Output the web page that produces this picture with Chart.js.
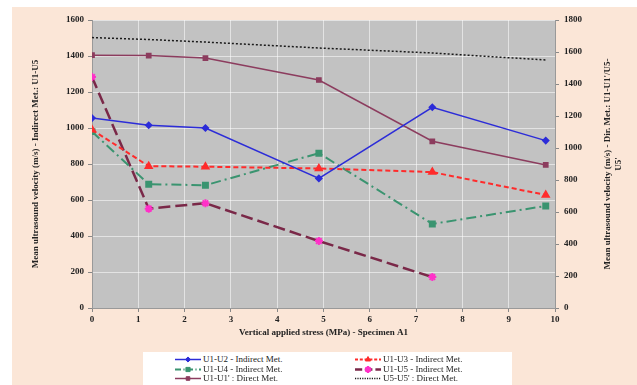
<!DOCTYPE html>
<html>
<head>
<meta charset="utf-8">
<script src="https://cdn.jsdelivr.net/npm/chart.js@4.4.0/dist/chart.umd.min.js"></script>
<style>
  html, body { margin: 0; padding: 0; background: #fff; }
  #page { position: relative; width: 637px; height: 385px; overflow: hidden; }
  #frame { position: absolute; left: 12px; top: 7px; right: 0; bottom: 0; background: #fbe6d7; }
  #chart { position: absolute; left: 0; top: 0; }
  #legend { position: absolute; left: 143px; top: 352px; width: 369px; height: 33px; background: #fff;
            font-family: "Liberation Serif", serif; font-size: 9px; color: #222; }
  .item { position: absolute; height: 9px; line-height: 9px; white-space: nowrap; }
  .item canvas { vertical-align: top; margin-right: 2px; }
</style>
</head>
<body>
<div id="page">
  <div id="frame"></div>
  <canvas id="chart" width="637" height="385"></canvas>
  <div id="legend"></div>
</div>
<script>
// vertical stress steps (MPa)
var stress = [0, 1.225, 2.45, 4.9, 7.35, 9.8];

// indirect method, left axis (m/s)
var u1u2 = [1055, 1015, 1000, 720, 1115, 930];
var u1u3 = [990, 788, 785, 775, 755, 628];
var u1u4 = [980, 688, 682, 860, 467, 567];
var u1u5 = [1283, 552, 582, 372, 172];

// direct method, right axis (m/s)
var u1u1p = [1580, 1578, 1562, 1425, 1042, 894];
var u5u5p = [1690, 1678, 1662, 1625, 1594, 1550];

var leftTicks = [0, 200, 400, 600, 800, 1000, 1200, 1400, 1600];
var rightTicks = [0, 200, 400, 600, 800, 1000, 1200, 1400, 1600, 1800];

function pts(ys) {
    return ys.map(function(y, i) { return { x: stress[i], y: y }; });
}

var serif = "'Liberation Serif', 'Times New Roman', serif";

var datasets = [
    { label: 'U1-U2 - Indirect Met.', data: pts(u1u2), yAxisID: 'y',
      borderColor: '#2c2cd8', backgroundColor: '#2c2cd8', borderWidth: 1.5,
      pointStyle: 'rectRot', pointRadius: 3 },
    { label: 'U1-U3 - Indirect Met.', data: pts(u1u3), yAxisID: 'y',
      borderColor: '#ff2b2b', backgroundColor: '#ff2b2b', borderWidth: 2, borderDash: [5, 3],
      pointStyle: 'triangle', pointRadius: 3.5 },
    { label: 'U1-U4 - Indirect Met.', data: pts(u1u4), yAxisID: 'y',
      borderColor: '#3a9470', backgroundColor: '#3a9470', borderWidth: 2, borderDash: [10, 4, 2, 4],
      pointStyle: 'rect', pointRadius: 3.5 },
    { label: 'U1-U5 - Indirect Met.', data: pts(u1u5), yAxisID: 'y',
      borderColor: '#7a2848', backgroundColor: '#ff30c8', pointBorderColor: '#ff30c8',
      borderWidth: 2.5, borderDash: [12, 5], pointStyle: 'star', pointRadius: 4, pointBorderWidth: 2 },
    { label: "U1-U1' : Direct Met.", data: pts(u1u1p), yAxisID: 'y1',
      borderColor: '#8c3c5e', backgroundColor: '#8c3c5e', borderWidth: 1.5,
      pointStyle: 'rect', pointRadius: 3 },
    { label: "U5-U5' : Direct Met.", data: pts(u5u5p), yAxisID: 'y1',
      borderColor: '#1a1a1a', backgroundColor: '#1a1a1a', borderWidth: 1.5, borderDash: [2, 2],
      pointRadius: 0 }
];

// gray plot area
var plotBg = {
    id: 'plotBg',
    beforeDraw: function(chart) {
        var a = chart.chartArea, c = chart.ctx;
        c.save();
        c.fillStyle = '#c2c2c2';
        c.fillRect(a.left, a.top, a.right - a.left, a.bottom - a.top);
        c.restore();
    }
};

// right axis title reads bottom-to-top like the original
var rightTitle = {
    id: 'rightTitle',
    afterDraw: function(chart) {
        var a = chart.chartArea, c = chart.ctx;
        var cy = (a.top + a.bottom) / 2;
        c.save();
        c.font = 'bold 9px ' + serif;
        c.fillStyle = '#222';
        c.textAlign = 'center';
        c.textBaseline = 'middle';
        c.translate(608, cy);
        c.rotate(-Math.PI / 2);
        c.fillText("Mean ultrasound velocity (m/s) - Dir. Met.: U1-U1'/U5-", 0, 0);
        c.fillText("U5'", 0, 11);
        c.restore();
    }
};

var tickFont = { family: serif, size: 9, weight: 'bold' };
function plain(v) { return String(v); }

var chart = new Chart(document.getElementById('chart'), {
    type: 'line',
    data: { datasets: datasets },
    plugins: [plotBg, rightTitle],
    options: {
        responsive: false,
        animation: false,
        layout: { padding: { left: 30, right: 0, top: 20, bottom: 47 } },
        plugins: { legend: { display: false }, tooltip: { enabled: false } },
        scales: {
            x: {
                type: 'linear', min: 0, max: 10,
                ticks: { stepSize: 1, color: '#222', font: tickFont, padding: 2, callback: plain },
                grid: { color: 'rgba(255,255,255,0.55)', tickLength: 4, tickColor: '#888' },
                border: { color: '#999' },
                title: { display: true, text: 'Vertical applied stress (MPa) - Specimen A1',
                         color: '#222', font: { family: serif, size: 9, weight: 'bold' },
                         padding: { top: 2, bottom: 0 } },
                afterFit: function(s) { s.height = 30; }
            },
            y: {
                position: 'left', min: 0, max: 1600,
                afterBuildTicks: function(s) { s.ticks = leftTicks.map(function(v) { return { value: v }; }); },
                ticks: { color: '#222', font: tickFont, padding: 4, callback: plain },
                grid: { color: 'rgba(255,255,255,0.55)', tickLength: 4, tickColor: '#888' },
                border: { color: '#999' },
                title: { display: true, text: 'Mean ultrasound velocity (m/s) - Indirect Met.: U1-U5',
                         color: '#222', font: { family: serif, size: 9, weight: 'bold' },
                         padding: { top: 0, bottom: 0 } },
                afterFit: function(s) { s.width = 62; }
            },
            y1: {
                position: 'right', min: 0, max: 1800,
                afterBuildTicks: function(s) { s.ticks = rightTicks.map(function(v) { return { value: v }; }); },
                ticks: { color: '#222', font: tickFont, padding: 5, callback: plain },
                grid: { drawOnChartArea: false, tickLength: 4, tickColor: '#888' },
                border: { color: '#999' },
                afterFit: function(s) { s.width = 82; }
            }
        }
    }
});

// legend built from the datasets
var legend = document.getElementById('legend');
var slots = [[32, 3], [212, 3], [32, 12.5], [212, 12.5], [32, 22], [212, 22]];
datasets.forEach(function(ds, k) {
    var item = document.createElement('div');
    item.className = 'item';
    item.style.left = slots[k][0] + 'px';
    item.style.top = slots[k][1] + 'px';
    var ic = document.createElement('canvas');
    ic.width = 26; ic.height = 9;
    var c = ic.getContext('2d');
    c.strokeStyle = ds.borderColor;
    c.lineWidth = ds.borderWidth;
    c.setLineDash(ds.borderDash ? ds.borderDash.map(function(d) { return d * 0.6; }) : []);
    c.beginPath(); c.moveTo(0, 4.5); c.lineTo(26, 4.5); c.stroke();
    c.setLineDash([]);
    if (ds.pointRadius) {
        c.fillStyle = ds.backgroundColor;
        c.strokeStyle = ds.pointBorderColor || ds.borderColor;
        c.lineWidth = ds.pointBorderWidth || 1;
        Chart.helpers.drawPoint(c, {
            pointStyle: ds.pointStyle, radius: ds.pointRadius * 0.85, rotation: 0,
            borderWidth: ds.pointBorderWidth || 1
        }, 13, 4.5);
    }
    item.appendChild(ic);
    item.appendChild(document.createTextNode(ds.label));
    legend.appendChild(item);
});
</script>
</body>
</html>
